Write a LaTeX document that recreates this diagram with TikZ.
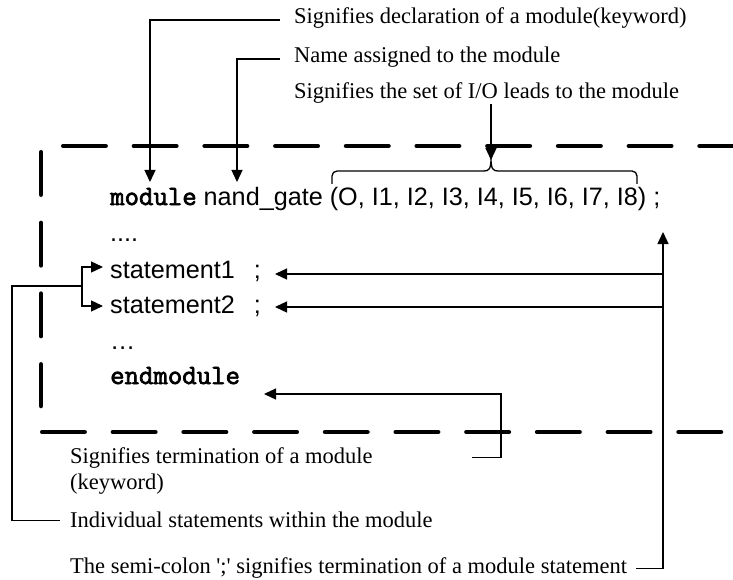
\documentclass[tikz,border=0pt]{standalone}
\usepackage{fontspec}
\setmainfont{Liberation Serif}
\newfontfamily\arialf{Liberation Sans}
\newfontfamily\kwface[FakeBold=2.5]{Latin Modern Mono}
\usetikzlibrary{arrows.meta}
\newcommand{\kwfont}{\kwface\fontsize{28}{32}\selectfont}
\begin{document}
\begin{tikzpicture}[x=1pt,y=-1pt,
  lbl/.style={anchor=base west,inner sep=0pt,font=\fontsize{22.5}{27}\selectfont},
  code/.style={anchor=base west,inner sep=0pt,font=\arialf\fontsize{25.2}{30}\selectfont},
  kw/.style={anchor=base west,inner sep=0pt,font=\kwfont},
  conn/.style={line width=1.3pt},
  arr/.style={conn,-{Triangle[length=12pt,width=11pt]}},
  border/.style={line width=4.5pt,line cap=round,dash pattern=on 42.5pt off 28.2pt}]
\useasboundingbox (0,0) rectangle (733,580);

% dashed frame
\draw[border] (63.2,146) -- (760,146);
\draw[border] (41,152.2) -- (41,406);
\draw[border] (42.2,432) -- (760,432);

% code
\node[code] (decl) at (110,205) {{\kwfont module} nand\_gate (O, I1, I2, I3, I4, I5, I6, I7, I8) ;};
\node[code] (dots1) at (110,241) {....};
\node[code] (st1) at (110,278) {statement1\hspace{19pt};};
\node[code] (st2) at (110,313) {statement2\hspace{19pt};};
\node[code] (dots2) at (110,349) {…};
\node[kw] (endm) at (110,384) {endmodule};

% labels
\node[lbl] (l1) at (294,24) {Signifies declaration of a module(keyword)};
\node[lbl] (l2) at (294,63) {Name assigned to the module};
\node[lbl] (l3) at (294,99) {Signifies the set of I/O leads to the module};
\node[lbl] (l4) at (70,463) {Signifies termination of a module};
\node[lbl] (l5) at (70,489) {(keyword)};
\node[lbl] (l6) at (70,527) {Individual statements within the module};
\node[lbl] (l7) at (70,573) {The semi-colon \textquotesingle;\textquotesingle\ signifies termination of a module statement};

% coordinates
\coordinate (t1) at (150,182);
\coordinate (t2) at (237,182);
\coordinate (brtip) at (491,158);
\coordinate (up) at (663,232);
\coordinate (r1) at (663,274);
\coordinate (r2) at (663,307);
\coordinate (s1) at (275,274);
\coordinate (s2) at (275,307);
\coordinate (e1) at (264,394);
\coordinate (bk) at (82,286);

% brace
\draw[conn,rounded corners=5pt] (332,184) -- (332,171) -- (484,171);
\draw[conn] (484,171) .. controls (489,171) and (491,169) .. (brtip) .. controls (491,169) and (493,171) .. (498,171);
\draw[conn,rounded corners=5pt] (498,171) -- (637,171) -- (637,184);

% top arrows
\draw[arr] ([xshift=-14pt,yshift=-1.5pt]l1.west) -| (t1);
\draw[arr] ([xshift=-14pt,yshift=-1.5pt]l2.west) -| (t2);
\draw[arr] (l3.south -| brtip) -- ([yshift=-2pt]brtip);

% semicolon arrows
\draw[arr] ([xshift=9pt,yshift=-1pt]l7.east) -| (up);
\draw[arr] (r1) -- (s1);
\draw[arr] (r2) -- (s2);

% endmodule arrow
\draw[arr] ([xshift=99pt]l4.east) -- ++(29,0) |- (e1);

% statements bracket
\draw[conn] ([xshift=-10pt,yshift=-1pt]l6.west) -| (12,286) -- (bk);
\draw[arr] (bk) |- (103,267);
\draw[arr] (bk) |- (103,306);
\end{tikzpicture}
\end{document}
